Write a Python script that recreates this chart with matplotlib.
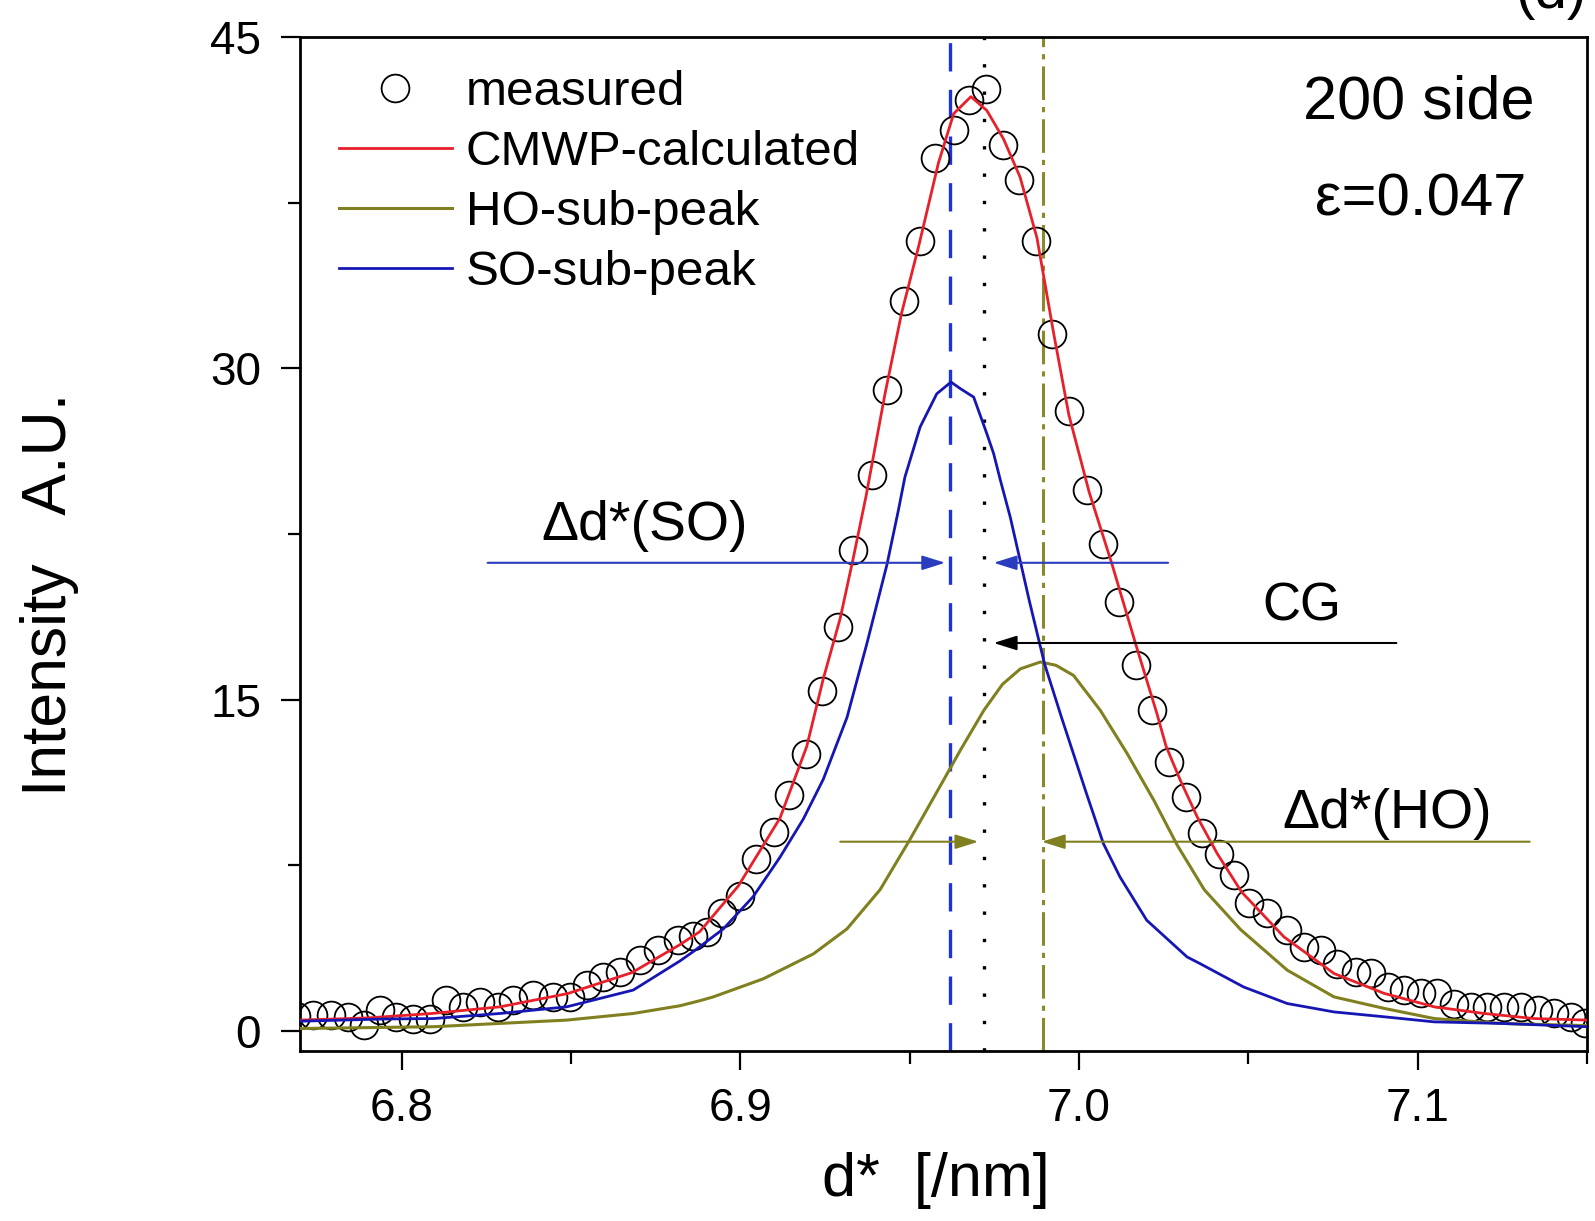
import matplotlib
matplotlib.use("Agg")
import matplotlib.pyplot as plt
from matplotlib.ticker import MultipleLocator, FormatStrFormatter

plt.rcParams['font.family'] = ['Liberation Sans', 'DejaVu Sans']

# measured points (d* in 1/nm, intensity A.U.)
measured_x = [6.7689, 6.7738, 6.7792, 6.7841, 6.7890, 6.7935, 6.7984, 6.8033, 6.8083,
              6.8132, 6.8181, 6.8231, 6.8285, 6.8329, 6.8388, 6.8447, 6.8497, 6.8546,
              6.8595, 6.8645, 6.8704, 6.8758, 6.8817, 6.8860, 6.8901, 6.8945, 6.9000,
              6.9047, 6.9098, 6.9144, 6.9193, 6.9242, 6.9287, 6.9334, 6.9388, 6.9433,
              6.9482, 6.9531, 6.9576, 6.9630, 6.9674, 6.9726, 6.9777, 6.9822, 6.9874,
              6.9920, 6.9970, 7.0024, 7.0070, 7.0117, 7.0167, 7.0216, 7.0265, 7.0315,
              7.0362, 7.0413, 7.0457, 7.0501, 7.0556, 7.0615, 7.0664, 7.0714, 7.0763,
              7.0817, 7.0861, 7.0911, 7.0960, 7.1009, 7.1058, 7.1108, 7.1157, 7.1206,
              7.1255, 7.1305, 7.1354, 7.1403, 7.1453, 7.1495]
measured_y = [0.70, 0.72, 0.72, 0.65, 0.27, 0.95, 0.65, 0.57, 0.57,
              1.40, 1.10, 1.33, 1.10, 1.40, 1.63, 1.55, 1.55, 2.08,
              2.46, 2.68, 3.21, 3.67, 4.12, 4.30, 4.48, 5.36, 6.12,
              7.78, 9.00, 10.70, 12.55, 15.38, 18.29, 21.76, 25.16, 29.00,
              33.05, 35.75, 39.53, 40.77, 42.16, 42.66, 40.12, 38.54, 35.75,
              31.57, 28.07, 24.48, 22.07, 19.43, 16.56, 14.52, 12.19, 10.60,
              8.95, 8.04, 7.06, 5.78, 5.33, 4.57, 3.81, 3.67, 3.06,
              2.68, 2.61, 2.00, 1.86, 1.71, 1.71, 1.25, 1.10, 1.10,
              1.10, 1.10, 0.95, 0.80, 0.65, 0.36]

# CMWP-calculated profile
cmwp_x = [6.770, 6.790, 6.809, 6.829, 6.849, 6.868, 6.882, 6.888, 6.8994, 6.9117,
          6.9196, 6.9245, 6.9295, 6.9334, 6.9371, 6.9427, 6.9476, 6.9526, 6.9585,
          6.9630, 6.9681, 6.9728, 6.9777, 6.9826, 6.9876, 6.9925, 6.9970, 7.0030,
          7.0097, 7.0167, 7.0230, 7.0257, 7.0299, 7.0349, 7.0408, 7.0480, 7.0605,
          7.0753, 7.0901, 7.1049, 7.1196, 7.1344, 7.1502]
cmwp_y = [0.50, 0.60, 0.80, 1.10, 1.70, 2.65, 3.90, 4.50, 6.57, 9.64,
          12.88, 15.95, 18.69, 21.45, 24.20, 28.83, 32.49, 35.49, 39.30,
          41.53, 42.30, 41.67, 40.39, 38.66, 35.90, 31.60, 27.90, 24.40,
          21.16, 17.54, 14.38, 12.90, 11.36, 9.70, 8.04, 6.30, 4.27,
          2.61, 1.71, 1.10, 0.80, 0.57, 0.50]

# HO sub-peak
ho_x = [6.770, 6.8093, 6.829, 6.8487, 6.8684, 6.8822, 6.8881, 6.892, 6.9068, 6.9216,
        6.9315, 6.9413, 6.9498, 6.9572, 6.9651, 6.9719, 6.9774, 6.9827, 6.9886,
        6.9932, 6.9984, 7.0063, 7.0142, 7.0221, 7.0290, 7.0370, 7.0477, 7.0615,
        7.0753, 7.0901, 7.1049, 7.1246, 7.1502]
ho_y = [0.12, 0.20, 0.35, 0.50, 0.80, 1.15, 1.38, 1.55, 2.37, 3.50,
        4.63, 6.41, 8.60, 10.60, 12.75, 14.52, 15.70, 16.40, 16.71,
        16.56, 16.10, 14.52, 12.57, 10.45, 8.42, 6.40, 4.60, 2.76,
        1.55, 1.03, 0.57, 0.35, 0.25]

# SO sub-peak
so_x = [6.770, 6.7945, 6.8093, 6.829, 6.8487, 6.8684, 6.8822, 6.8861, 6.895, 6.9038,
        6.9117, 6.9186, 6.9245, 6.9315, 6.9374, 6.9433, 6.9467, 6.9486, 6.9531,
        6.9580, 6.9622, 6.9650, 6.9689, 6.9728, 6.9748, 6.9768, 6.9797, 6.9853,
        6.9898, 6.9948, 7.0022, 7.0072, 7.0121, 7.0200, 7.0319, 7.0357, 7.0486,
        7.0615, 7.0753, 7.0901, 7.1049, 7.1246, 7.1502]
so_y = [0.45, 0.55, 0.57, 0.80, 1.10, 1.86, 3.18, 3.60, 4.63, 6.09,
        7.87, 9.60, 11.40, 14.20, 17.56, 21.12, 23.60, 25.08, 27.35,
        28.85, 29.38, 29.08, 28.70, 27.04, 26.14, 24.93, 23.27, 19.50,
        16.64, 14.22, 10.76, 8.49, 6.98, 5.02, 3.36, 3.06, 2.00,
        1.25, 0.87, 0.65, 0.42, 0.35, 0.20]

# peak positions
so_center = 6.962
cg_center = 6.972
ho_center = 6.9895

fig = plt.figure(figsize=(15.95, 12.21), dpi=100)
ax = fig.add_axes([0.1881, 0.1392, 0.8069, 0.8305])

ax.plot(measured_x, measured_y, linestyle='none', marker='o', ms=20,
        mfc='none', mec='black', mew=1.3, label='measured', zorder=3)
ax.plot(cmwp_x, cmwp_y, color='#e8202a', lw=2.0, label='CMWP-calculated', zorder=4)
ax.plot(ho_x, ho_y, color='#808020', lw=2.2, label='HO-sub-peak', zorder=4)
ax.plot(so_x, so_y, color='#1616b4', lw=2.0, label='SO-sub-peak', zorder=4)

ax.axvline(so_center, color='#1e30e0', lw=2.4, linestyle=(0, (8.5, 5.5)), zorder=2)
ax.axvline(cg_center, color='black', lw=2.4, linestyle=(0, (1, 7.2)), zorder=2)
ax.axvline(ho_center, color='#8a8a2a', lw=2.2, linestyle=(0, (11, 2.3, 1.7, 2.3)), zorder=2)

def arrow(x0, x1, y, color):
    ax.annotate('', xy=(x1, y), xytext=(x0, y),
                arrowprops=dict(arrowstyle='-|>,head_length=0.7,head_width=0.22',
                                color=color, lw=1.5, mutation_scale=20,
                                shrinkA=0, shrinkB=0), zorder=5)

arrow(6.8254, 6.9605, 21.2, '#2a3cc0')
arrow(7.0263, 6.9748, 21.2, '#2a3cc0')
arrow(7.0937, 6.9748, 17.57, 'black')
arrow(6.9295, 6.9703, 8.575, '#808020')
arrow(7.1331, 6.9890, 8.575, '#808020')

ax.text(6.8718, 22.85, 'Δd*(SO)', ha='center', va='center', fontsize=40)
ax.text(7.0657, 19.2, 'CG', ha='center', va='center', fontsize=38)
ax.text(7.091, 9.83, 'Δd*(HO)', ha='center', va='center', fontsize=40)
ax.text(7.1346, 42.0, '200 side', ha='right', va='center', fontsize=44)
ax.text(7.132, 37.6, 'ε=0.047', ha='right', va='center', fontsize=43)
fig.text(0.995, 0.984, '(d)', ha='right', va='bottom', fontsize=42)

ax.set_xlim(6.77, 7.15)
ax.set_ylim(-0.9, 45)
ax.xaxis.set_major_locator(MultipleLocator(0.1))
ax.xaxis.set_minor_locator(MultipleLocator(0.05))
ax.xaxis.set_major_formatter(FormatStrFormatter('%.1f'))
ax.yaxis.set_major_locator(MultipleLocator(15))
ax.yaxis.set_minor_locator(MultipleLocator(7.5))
ax.tick_params(which='both', direction='out', width=1.6, labelsize=33)
ax.tick_params(which='major', length=14)
ax.tick_params(which='minor', length=9)
ax.tick_params(axis='y', pad=14)
ax.tick_params(axis='x', pad=12)
for sp in ax.spines.values():
    sp.set_linewidth(2.0)

ax.set_xlabel('d*  [/nm]', fontsize=44)
ax.set_ylabel('Intensity   A.U.', fontsize=45)
ax.xaxis.set_label_coords(0.494, -0.1)
ax.yaxis.set_label_coords(-0.172, 0.45)

ax.legend(loc='upper left', bbox_to_anchor=(0.03, 0.967), frameon=False,
          fontsize=35.5, handlelength=2.3, handletextpad=0.28, labelspacing=0.3,
          borderpad=0, borderaxespad=0, numpoints=1)

fig.savefig('out.png', dpi=100)
